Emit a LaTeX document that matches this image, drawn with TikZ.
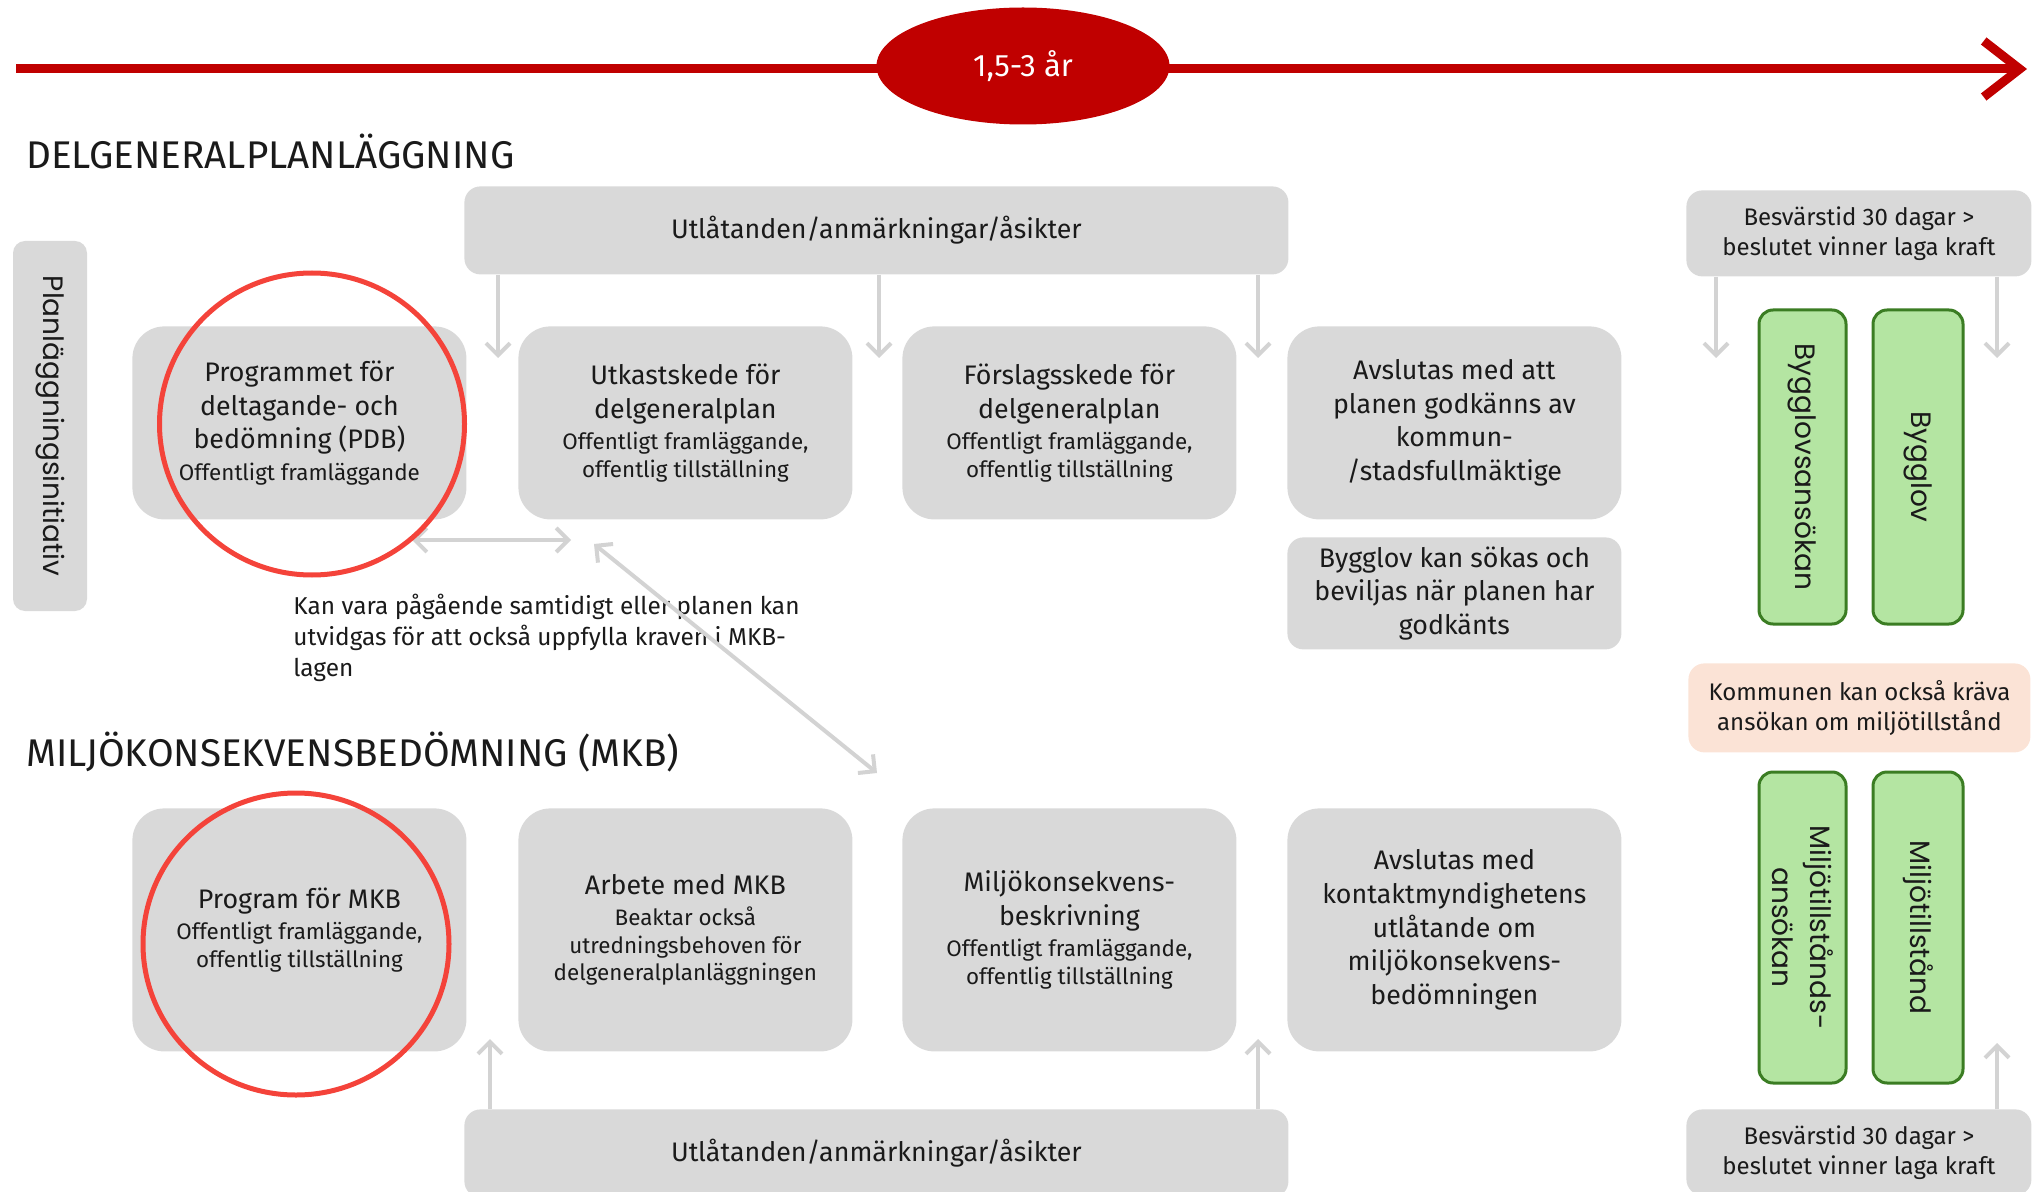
\documentclass[tikz,border=0pt]{standalone}
\usepackage{fontspec}
\setmainfont{Fira Sans}
\newfontfamily\geofont{Poppins}
\usetikzlibrary{arrows.meta,shapes.geometric}
\definecolor{boxgray}{HTML}{D9D9D9}
\definecolor{arrowgray}{HTML}{D3D3D3}
\definecolor{tlred}{HTML}{C00000}
\definecolor{ringred}{HTML}{F4433A}
\definecolor{okfill}{HTML}{B4E5A2}
\definecolor{okdraw}{HTML}{3B7D23}
\definecolor{peach}{HTML}{FBE3D6}
\definecolor{ink}{HTML}{1A1A1A}
\newcommand\headsz{\fontsize{19.3}{23}\selectfont}
\newcommand\mainsz{\fontsize{13.4}{16.8}\selectfont}
\newcommand\subsz{\fontsize{11.2}{13.5}\selectfont}
\newcommand\notesz{\fontsize{12}{15}\selectfont}
\newcommand\annsz{\fontsize{12.2}{15.5}\selectfont}
\newcommand\durasz{\fontsize{15.5}{18}\selectfont}
\newcommand\geosz{\geofont\fontsize{14}{19}\selectfont}
\begin{document}
\begin{tikzpicture}[x=0.5pt,y=-0.5pt,text=ink,
  stage/.style={fill=boxgray, rounded corners=16pt, minimum width=167pt, align=center, inner sep=2pt, font=\mainsz, anchor=north west},
  note/.style={fill=boxgray, rounded corners=8pt, align=center, inner sep=2pt, anchor=north west},
  okbox/.style={fill=okfill, draw=okdraw, line width=1.5pt, rounded corners=7pt, rotate=-90, align=center, inner sep=2pt, font=\geosz},
  ring/.style={ellipse, draw=ringred, line width=2.5pt, minimum width=152.5pt, minimum height=151pt, inner sep=0pt},
  garrow/.style={draw=arrowgray, line width=2pt, -{Straight Barb[length=6pt,width=12pt]}},
  gboth/.style={draw=arrowgray, line width=2pt, {Straight Barb[length=6pt,width=12pt]}-{Straight Barb[length=6pt,width=12pt]}}]
\useasboundingbox (0,0) rectangle (2044,1192);
\clip (0,0) rectangle (2044,1192);

\coordinate (tl0) at (16,69);
\coordinate (tl1) at (2027,69);
\draw[tlred, line width=4.5pt, -{Straight Barb[length=18pt,width=28pt]}] (tl0) -- (tl1);
\node[ellipse, fill=tlred, minimum width=146.5pt, minimum height=58.5pt, text=white, font=\durasz] (dur) at (1023,66) {1,5-3 år};

\node[anchor=west, inner sep=0pt, font=\headsz] (dgp) at (26,151) {DELGENERALPLANLÄGGNING};
\node[anchor=west, inner sep=0pt, font=\headsz] (mkb) at (26,752) {MILJÖKONSEKVENSBEDÖMNING (MKB)};

\node[fill=boxgray, rounded corners=6pt, rotate=-90, minimum width=185pt, minimum height=37pt, inner sep=2pt, font=\geofont\fontsize{14}{16}\selectfont] (init) at (50,426) {Planläggningsinitiativ};

\node[note, minimum width=412pt, minimum height=44pt, font=\mainsz] (utlA) at (464,186) {Utlåtanden/anmärkningar/åsikter};
\node[stage, minimum height=96.5pt] (pdb) at (132,326) {Programmet för\\ deltagande- och\\ bedömning (PDB)\\[-1pt] {\subsz Offentligt framläggande}};
\node[stage, minimum height=96.5pt] (utkast) at (518,326) {Utkastskede för\\ delgeneralplan\\[-1pt] {\subsz Offentligt framläggande,}\\[-3pt] {\subsz offentlig tillställning}};
\node[stage, minimum height=96.5pt] (forslag) at (902,326) {Förslagsskede för\\ delgeneralplan\\[-1pt] {\subsz Offentligt framläggande,}\\[-3pt] {\subsz offentlig tillställning}};
\node[stage, minimum height=96.5pt] (godk) at (1287,326) {Avslutas med att\\ planen godkänns av\\ kommun-\\ /stadsfullmäktige};
\node[stage, rounded corners=8pt, minimum height=56pt] (bygg) at (1287,537) {Bygglov kan sökas och\\ beviljas när planen har\\ godkänts};

\node[stage, minimum height=121.5pt] (progmkb) at (132,808) {Program för MKB\\[-1pt] {\subsz Offentligt framläggande,}\\[-3pt] {\subsz offentlig tillställning}};
\node[stage, minimum height=121.5pt] (arbete) at (518,808) {Arbete med MKB\\[-1pt] {\subsz Beaktar också}\\[-3pt] {\subsz utredningsbehoven för}\\[-3pt] {\subsz delgeneralplanläggningen}};
\node[stage, minimum height=121.5pt] (beskr) at (902,808) {Miljökonsekvens-\\ beskrivning\\[-1pt] {\subsz Offentligt framläggande,}\\[-3pt] {\subsz offentlig tillställning}};
\node[stage, minimum height=121.5pt] (kontakt) at (1287,808) {Avslutas med\\ kontaktmyndighetens\\ utlåtande om\\ miljökonsekvens-\\ bedömningen};
\node[note, minimum width=412pt, minimum height=44pt, font=\mainsz] (utlB) at (464,1109) {Utlåtanden/anmärkningar/åsikter};

\node[note, minimum width=172.5pt, minimum height=43pt, font=\notesz] (besA) at (1686,190) {Besvärstid 30 dagar >\\ beslutet vinner laga kraft};
\node[note, fill=peach, minimum width=171pt, minimum height=44.5pt, font=\notesz] (krav) at (1688,663) {Kommunen kan också kräva\\ ansökan om miljötillstånd};
\node[note, minimum width=172.5pt, minimum height=43pt, font=\notesz] (besB) at (1686,1109) {Besvärstid 30 dagar >\\ beslutet vinner laga kraft};

\node[okbox, minimum width=157pt, minimum height=43.5pt] (ansokan) at (1802.5,467) {Bygglovsansökan};
\node[okbox, minimum width=157pt, minimum height=45pt] (bygglov) at (1918,467) {Bygglov};
\node[okbox, minimum width=155.5pt, minimum height=43.5pt] (miljoans) at (1802.5,927.5) {Miljötillstånds-\\ ansökan};
\node[okbox, minimum width=155.5pt, minimum height=45pt] (miljo) at (1918,927.5) {Miljötillstånd};

\node[anchor=west, align=left, inner sep=0pt, font=\annsz] (samtidigt) at (293,638) {Kan vara pågående samtidigt eller planen kan\\ utvidgas för att också uppfylla kraven i MKB-\\ lagen};

\coordinate (dA1) at (498,358);
\coordinate (dA2) at (879,358);
\coordinate (dA3) at (1258,358);
\coordinate (dB1) at (1716,358);
\coordinate (dB2) at (1997,358);
\coordinate (uA1) at (490,1039);
\coordinate (uA2) at (1258,1039);
\coordinate (uB1) at (1997,1043);
\draw[garrow] (dA1 |- utlA.south) -- (dA1);
\draw[garrow] (dA2 |- utlA.south) -- (dA2);
\draw[garrow] (dA3 |- utlA.south) -- (dA3);
\draw[garrow] (dB1 |- besA.south) -- (dB1);
\draw[garrow] (dB2 |- besA.south) -- (dB2);
\draw[garrow] (uA1 |- utlB.north) -- (uA1);
\draw[garrow] (uA2 |- utlB.north) -- (uA2);
\draw[garrow] (uB1 |- besB.north) -- (uB1);

\coordinate (hL) at (412,540);
\coordinate (hR) at (571,540);
\coordinate (sA) at (594,544);
\coordinate (sB) at (877,773);
\draw[gboth] (hL) -- (hR);
\draw[gboth] (sA) -- (sB);

\node[ring] (ringpdb) at (312,424) {};
\node[ring, minimum width=153pt] (ringmkb) at (296,944) {};
\end{tikzpicture}
\end{document}
